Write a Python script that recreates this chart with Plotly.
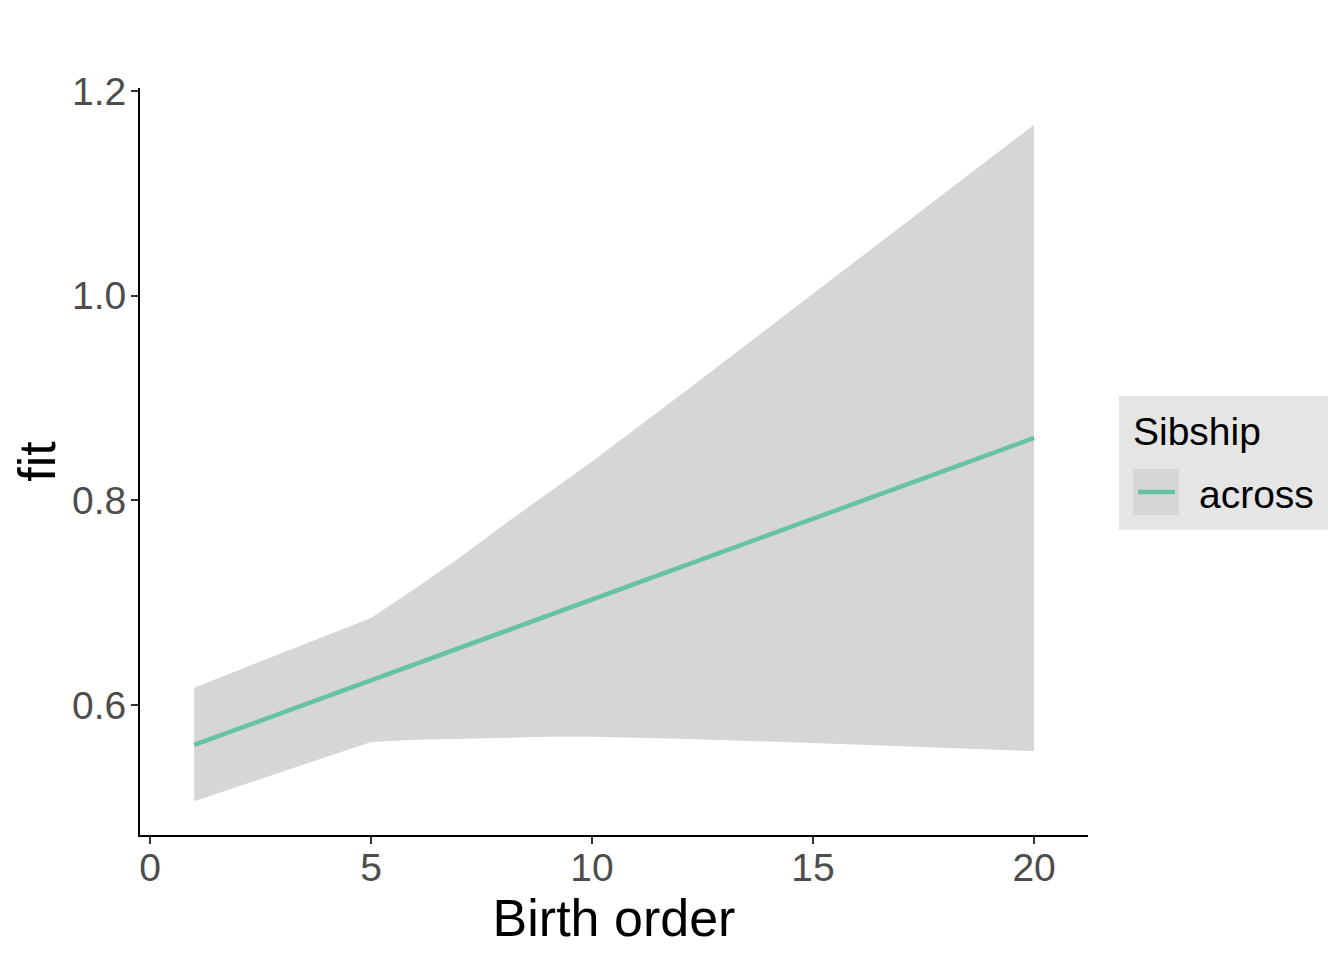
import plotly.graph_objects as go

# Data
birth_order = [1, 5, 6, 7, 8, 9, 10, 12, 15, 17, 20]
fit = [0.561, 0.624, 0.640, 0.656, 0.672, 0.687, 0.703, 0.735, 0.782, 0.814, 0.861]
lower = [0.506, 0.564, 0.566, 0.567, 0.568, 0.569, 0.569, 0.567, 0.563, 0.560, 0.555]
upper = [0.617, 0.685, 0.714, 0.744, 0.776, 0.807, 0.838, 0.903, 1.002, 1.068, 1.167]
series_name = "across"
legend_title = "Sibship"
x_ticks = [0, 5, 10, 15, 20]
y_ticks = [0.6, 0.8, 1.0, 1.2]

LINE_COLOR = "#66c2a5"
RIBBON = "#d6d6d6"
FONT = "Liberation Sans, Arial, sans-serif"

fig = go.Figure()
fig.add_trace(go.Scatter(x=birth_order, y=lower, mode="lines", line=dict(width=0),
                         showlegend=False, hoverinfo="skip"))
fig.add_trace(go.Scatter(x=birth_order, y=upper, mode="lines", line=dict(width=0),
                         fill="tonexty", fillcolor=RIBBON, showlegend=False, hoverinfo="skip"))
fig.add_trace(go.Scatter(x=birth_order, y=fit, mode="lines", name=series_name,
                         line=dict(color=LINE_COLOR, width=4.5), showlegend=False))

# page body has an 8px margin; screen coords of the plot area: x 140..1088, y 88..835
OFF = 8
W, H = 1336, 952
L, T = 140 - OFF, 88 - OFF
pw, ph = 948, 747
R = W - L - pw
B = H - T - ph

def px(x):
    return (x - 140) / pw

def py(y):
    return (835 - y) / ph

shapes = [
    dict(type="rect", xref="paper", yref="paper", x0=px(1119), x1=px(1328), y0=py(530), y1=py(396),
         fillcolor="#e5e5e5", line=dict(width=0), layer="below"),
    dict(type="rect", xref="paper", yref="paper", x0=px(1133), x1=px(1179), y0=py(515), y1=py(469),
         fillcolor=RIBBON, line=dict(width=0)),
    dict(type="line", xref="paper", yref="paper", x0=px(1138), x1=px(1175), y0=py(492), y1=py(492),
         line=dict(color=LINE_COLOR, width=4.5)),
]
annotations = [
    dict(text=legend_title, xref="paper", yref="paper", x=px(1131), y=py(432), xanchor="left",
         yanchor="middle", showarrow=False, font=dict(family=FONT, size=39, color="black")),
    dict(text=series_name, xref="paper", yref="paper", x=px(1197), y=py(494), xanchor="left",
         yanchor="middle", showarrow=False, font=dict(family=FONT, size=39, color="black")),
]

fig.update_layout(
    width=W, height=H,
    margin=dict(l=L, r=R, t=T, b=B),
    plot_bgcolor="white", paper_bgcolor="white",
    font=dict(family=FONT),
    showlegend=False,
    shapes=shapes, annotations=annotations,
    xaxis=dict(range=[-0.226, 21.22], tickvals=x_ticks, ticktext=[str(v) for v in x_ticks],
               showgrid=False, zeroline=False, showline=True, linecolor="black", linewidth=2,
               ticks="outside", ticklen=7, tickwidth=2, tickcolor="#333333",
               ticklabelstandoff=-10,
               tickfont=dict(size=39, color="#4d4d4d", family=FONT),
               title=dict(text="Birth order", font=dict(size=52, color="black", family=FONT), standoff=4)),
    yaxis=dict(range=[0.473, 1.203], tickvals=y_ticks, ticktext=["0.6", "0.8", "1.0", "1.2"],
               showgrid=False, zeroline=False, showline=True, linecolor="black", linewidth=2,
               ticks="outside", ticklen=7, tickwidth=2, tickcolor="#333333",
               ticklabelstandoff=-3,
               tickfont=dict(size=39, color="#4d4d4d", family=FONT),
               title=dict(text="fit", font=dict(size=52, color="black", family=FONT), standoff=15)),
)

fig.write_html("out.html")
